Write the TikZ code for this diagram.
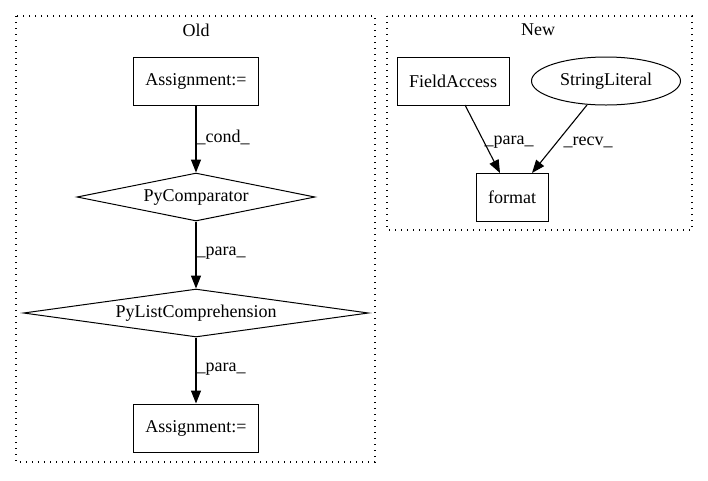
\documentclass[tikz,border=0pt]{standalone}
\usepackage{fontspec}
\setmainfont{Liberation Serif}
\usetikzlibrary{shapes.geometric,arrows.meta}
\begin{document}
\begin{tikzpicture}[x=1pt,y=-1pt,
  every node/.style={font=\fontsize{18pt}{21pt}\selectfont},
  cluster/.style={draw,line width=1.2pt,dash pattern=on 1.2pt off 4.8pt},
  boxnode/.style={draw,rectangle,line width=1pt,minimum height=48pt,inner sep=0pt},
  dianode/.style={draw,diamond,line width=1pt,minimum height=48pt,inner sep=0pt},
  ellnode/.style={draw,ellipse,line width=1pt,minimum width=149pt,minimum height=48pt,inner sep=0pt},
  edge/.style={-{Triangle[length=13pt,width=10pt]},line width=1.1pt},
  elabel/.style={anchor=west,inner sep=0pt}]
\useasboundingbox (0,0) rectangle (708,480);
\draw[cluster] (16,16) rectangle (375,462);
\draw[cluster] (387,16) rectangle (692,230);
\node (oldlbl) at (196,30) {Old};
\node (newlbl) at (538,30) {New};
% Old
\node[boxnode,minimum width=125pt] (a1) at (196,81) {Assignment:=};
\node[dianode,minimum width=238pt,aspect=5] (pc) at (196,197) {PyComparator};
\node[dianode,minimum width=345pt,aspect=7] (plc) at (196,313) {PyListComprehension};
\node[boxnode,minimum width=125pt] (a2) at (196,428) {Assignment:=};
\draw[edge] (a1) -- (pc.north) node[elabel,pos=0.48] (l1) {\_cond\_};
\draw[edge] (pc.south) -- (plc.north) node[elabel,pos=0.48] (l2) {\_para\_};
\draw[edge] (plc.south) -- (a2) node[elabel,pos=0.48] (l3) {\_para\_};
% New
\node[boxnode,minimum width=112pt] (fa) at (453,81) {FieldAccess};
\node[ellnode] (sl) at (606,81) {StringLiteral};
\node[boxnode,minimum width=72pt] (fm) at (512,197) {format};
\coordinate (fain) at (500,173);
\coordinate (slin) at (532,173);
\coordinate (faout) at (465,105);
\coordinate (slout) at (587,105);
\draw[edge] (faout) -- (fain);
\draw[edge] (slout) -- (slin);
\node (l4) at (509,142) {\_para\_};
\node (l5) at (588,142) {\_recv\_};
\end{tikzpicture}
\end{document}
